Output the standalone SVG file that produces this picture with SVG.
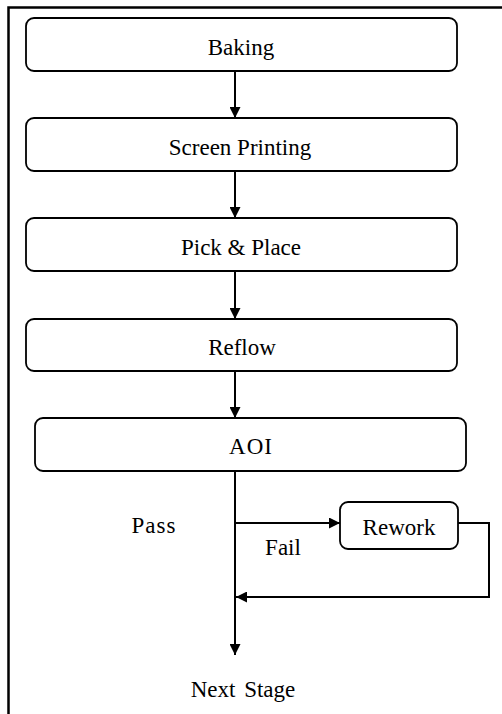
<svg xmlns="http://www.w3.org/2000/svg" width="502" height="714" viewBox="0 0 502 714">
<style>
.box{fill:#fff;stroke:#000;stroke-width:1.8}
.t{font-family:"Liberation Serif","Times New Roman",serif;font-size:23px;fill:#000;text-anchor:middle}
.c{fill:none;stroke:#000;stroke-width:2}
</style>
<defs>
<marker id="ah" viewBox="0 0 10 10" refX="10" refY="5" markerWidth="11" markerHeight="11" markerUnits="userSpaceOnUse" orient="auto">
<path d="M0,0 L10,5 L0,10 z" fill="#000"/>
</marker>
</defs>
<rect width="502" height="714" fill="#fff"/>
<path d="M8.5,714 V7.5 H502" fill="none" stroke="#000" stroke-width="2.5"/>
<g id="connectors">
<path class="c" d="M235,71 V118" marker-end="url(#ah)"/>
<path class="c" d="M235,171 V218" marker-end="url(#ah)"/>
<path class="c" d="M235,271 V319" marker-end="url(#ah)"/>
<path class="c" d="M235,371 V418" marker-end="url(#ah)"/>
<path class="c" d="M235,471 V655" marker-end="url(#ah)"/>
<path class="c" d="M235,523 H340" marker-end="url(#ah)"/>
<path class="c" d="M458,523 H489 V597 H236" marker-end="url(#ah)"/>
</g>
<g id="baking"><rect class="box" x="26" y="18" width="431" height="53" rx="8"/><text class="t" x="241" y="55">Baking</text></g>
<g id="screen-printing"><rect class="box" x="26" y="118" width="431" height="53" rx="8"/><text class="t" x="240" y="155">Screen Printing</text></g>
<g id="pick-place"><rect class="box" x="26" y="218" width="431" height="53" rx="8"/><text class="t" x="241" y="255">Pick &amp; Place</text></g>
<g id="reflow"><rect class="box" x="26" y="319" width="431" height="52" rx="8"/><text class="t" x="242" y="355">Reflow</text></g>
<g id="aoi"><rect class="box" x="35" y="418" width="431" height="53" rx="8"/><text class="t" x="251" y="454" letter-spacing="1">AOI</text></g>
<g id="rework"><rect class="box" x="340" y="502" width="118" height="47" rx="8"/><text class="t" x="399" y="535">Rework</text></g>
<g id="labels">
<text class="t" x="154" y="533" letter-spacing="1">Pass</text>
<text class="t" x="283" y="555">Fail</text>
<text class="t" x="243" y="697" word-spacing="3">Next Stage</text>
</g>
</svg>
